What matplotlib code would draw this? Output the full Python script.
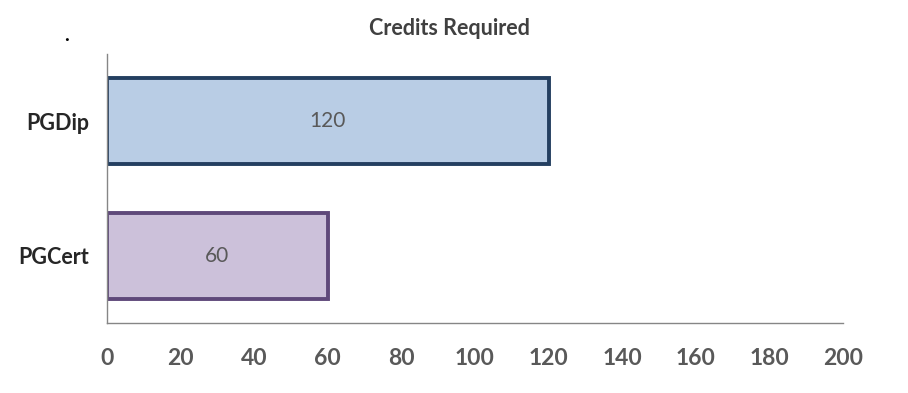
import matplotlib.pyplot as plt

# Data
categories = ["PGCert", "PGDip"]
credits = [60, 120]
fills = ["#CCC1DA", "#B9CDE5"]
edges = ["#5F497A", "#243F60"]
xticks = [0, 20, 40, 60, 80, 100, 120, 140, 160, 180, 200]

plt.rcParams["font.family"] = ["Lato", "DejaVu Sans"]

fig = plt.figure(figsize=(9.08, 3.93), dpi=100)
ax = fig.add_axes([0.1178, 0.178, 0.8106, 0.684])

ax.barh(categories, credits, height=0.64, color=fills, edgecolor=edges, linewidth=2.8)

for i, v in enumerate(credits):
    ax.text(v / 2, i, str(v), ha="center", va="center", fontsize=15, color="#595959")

ax.set_xlim(0, 200)
ax.set_ylim(-0.5, 1.5)
ax.set_xticks(xticks)
ax.set_xticklabels([str(t) for t in xticks], fontsize=16.5, fontweight="bold", color="#595959")
ax.set_yticks(range(len(categories)))
ax.set_yticklabels(categories, fontsize=15.5, fontweight="bold", color="#262626")
ax.tick_params(length=0, pad=18)
ax.tick_params(axis="y", pad=13)

for s in ["top", "right"]:
    ax.spines[s].set_visible(False)
for s in ["left", "bottom"]:
    ax.spines[s].set_color("#868686")
    ax.spines[s].set_linewidth(1)

fig.text(0.495, 0.928, "Credits Required", ha="center", va="center", fontsize=15.5,
         fontweight="bold", color="#404040")
fig.text(0.073, 0.91, ".", ha="center", va="center", fontsize=14, fontweight="bold", color="black")

fig.savefig("out.png", dpi=100, facecolor="white")
